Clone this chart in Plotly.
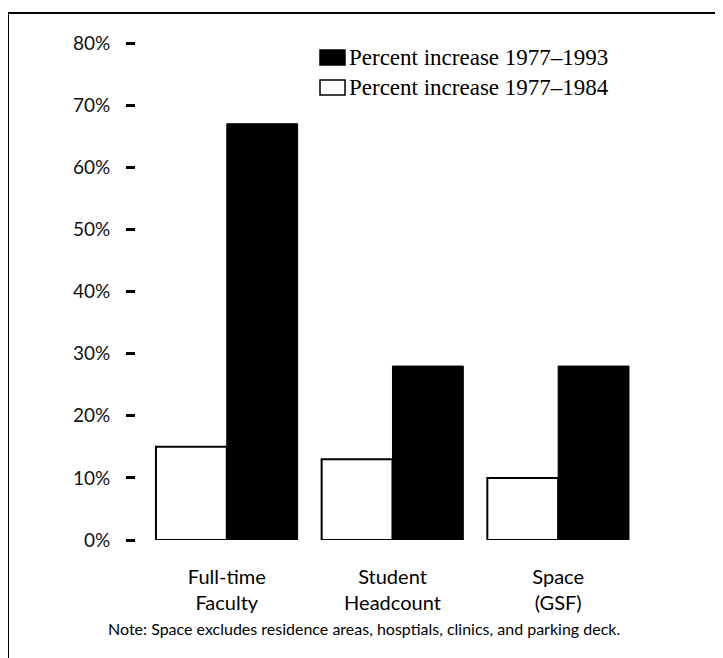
import plotly.graph_objects as go

categories = ["Full-time<br>Faculty", "Student<br>Headcount", "Space<br>(GSF)"]
series_names = ["Percent increase 1977\u20131984", "Percent increase 1977\u20131993"]
increase_1977_1984 = [15, 13, 10]
increase_1977_1993 = [67, 28, 28]
tick_values = [0, 10, 20, 30, 40, 50, 60, 70, 80]
tick_labels = [f"{v}%" for v in tick_values]
note_text = "Note: Space excludes residence areas, hosptials, clinics, and parking deck."

OFF = 8  # browser body margin
W, H = 723 - OFF, 658 - OFF
L, R, T, B = 136 - OFF, 641 - OFF, 43 - OFF, 540 - OFF

def px(x):
    return (x - OFF - L) / (R - L)

def py(y):
    return (B - (y - OFF)) / (B - T)

sans = "Lato"
serif = "Liberation Serif"

fig = go.Figure()
fig.add_trace(go.Bar(x=categories, y=increase_1977_1984, name=series_names[0],
                     marker=dict(color="white", line=dict(color="black", width=2))))
fig.add_trace(go.Bar(x=categories, y=increase_1977_1993, name=series_names[1],
                     marker=dict(color="black", line=dict(color="black", width=1))))

fig.update_layout(
    width=W, height=H,
    margin=dict(l=L, r=W - R, t=T, b=H - B, pad=0),
    paper_bgcolor="white", plot_bgcolor="white",
    barmode="group", bargap=0.145, bargroupgap=0,
    showlegend=False,
    font=dict(family=sans, color="black"),
)
fig.update_xaxes(range=[-0.548, 2.5], showline=False, showgrid=False, zeroline=False,
                 ticks="", tickfont=dict(family=sans, size=20, color="black"),
                 ticklabelstandoff=23)
fig.update_yaxes(range=[0, 80], tickvals=tick_values, ticktext=tick_labels,
                 showline=False, showgrid=False, zeroline=False,
                 ticks="outside", ticklen=9, tickwidth=3, tickcolor="black",
                 tickfont=dict(family=sans, size=19, color="#111"),
                 ticklabelstandoff=12)

# frame lines (left and top)
fig.add_shape(type="line", xref="paper", yref="paper",
              x0=px(8), x1=px(723), y0=py(13), y1=py(13),
              line=dict(color="black", width=2))
fig.add_shape(type="line", xref="paper", yref="paper",
              x0=px(8), x1=px(8), y0=py(13), y1=py(658),
              line=dict(color="black", width=2))

# legend boxes
legend_rows = [(series_names[1], "black", 50, 65), (series_names[0], "white", 80, 95)]
for name, color, y0, y1 in legend_rows:
    fig.add_shape(type="rect", xref="paper", yref="paper",
                  x0=px(320), x1=px(345), y0=py(y1), y1=py(y0),
                  fillcolor=color, line=dict(color="black", width=1.5))
    fig.add_annotation(xref="paper", yref="paper", x=px(347), y=py((y0 + y1) / 2),
                       text=name, showarrow=False, xanchor="left", yanchor="middle",
                       font=dict(family=serif, size=23, color="black"))

fig.add_annotation(xref="paper", yref="paper", x=px(364), y=py(628),
                   text=note_text, showarrow=False, xanchor="center", yanchor="middle",
                   font=dict(family=sans, size=16, color="black"))

fig.write_html("out.html")
